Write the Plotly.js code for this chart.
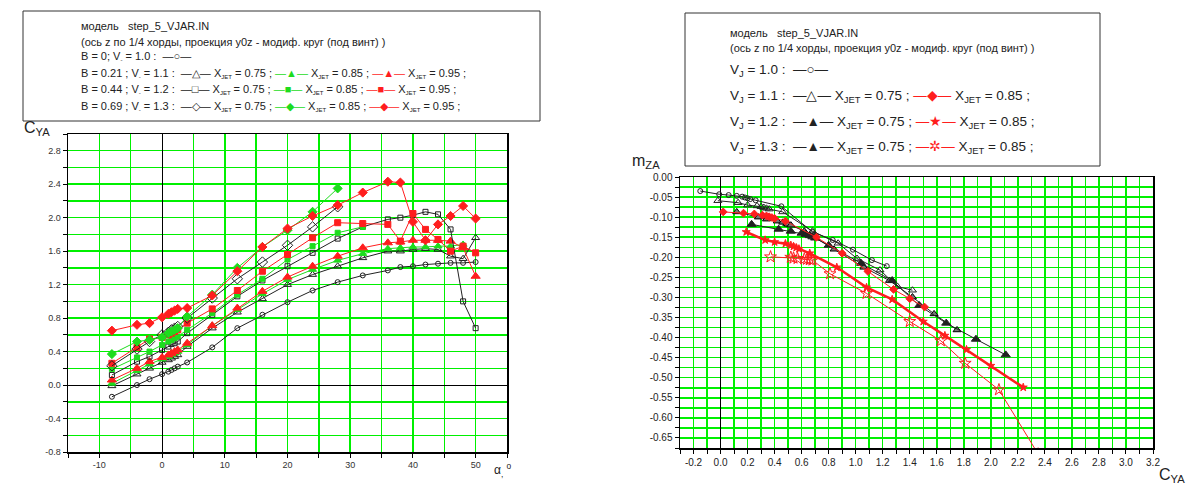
<!DOCTYPE html>
<html><head><meta charset="utf-8">
<script src="https://cdn.plot.ly/plotly-3.0.1.min.js"></script>
<style>html,body{margin:0;padding:0;background:#fff}#chart{width:1187px;height:490px}</style>
</head><body><div id="chart"></div>
<script>
// ---------- Left chart: C_YA vs alpha ----------
const alpha = [-8,-4,-2,0,1,1.5,2,2.5,4,8,12,16,20,24,28,32,36,38,40,42,44,46,48,50];
const cyB0      = [-0.14,0.00,0.07,0.13,0.16,0.18,0.20,0.22,0.27,0.45,0.68,0.84,0.99,1.13,1.23,1.31,1.37,1.41,1.42,1.44,1.45,1.46,1.46,1.47];
const cyB21_075 = [-0.01,0.13,0.20,0.27,0.30,0.32,0.34,0.36,0.46,0.68,0.87,1.03,1.20,1.32,1.42,1.52,1.60,1.60,1.62,1.63,1.62,1.54,1.51,1.76];
const cyB21_085 = [0.02,0.17,0.25,0.31,0.34,0.36,0.38,0.40,0.48,0.71,0.90,1.09,1.26,1.38,1.49,1.57,1.63,1.64,1.65,1.65,1.66,1.66,1.68];
const cyB21_095 = [0.06,0.20,0.28,0.33,0.36,0.38,0.40,0.42,0.50,0.71,0.92,1.12,1.29,1.42,1.54,1.64,1.70,1.71,1.73,1.73,1.73,1.72,1.64,1.30];
const cyB44_075 = [0.12,0.28,0.34,0.42,0.46,0.49,0.50,0.52,0.62,0.84,1.06,1.25,1.42,1.58,1.75,1.89,1.98,2.00,2.03,2.07,2.04,1.86,1.00,0.68];
const cyB44_085 = [0.19,0.33,0.40,0.48,0.52,0.54,0.56,0.58,0.66,0.86,1.08,1.27,1.50,1.66,1.82,1.89];
const cyB44_095 = [0.26,0.45,0.55,0.57,0.60,0.62,0.64,0.66,0.74,0.91,1.13,1.36,1.56,1.76,1.94,1.93,1.92,1.72,2.05,1.86,1.74,1.60,1.66,1.58];
const cyB69_075 = [0.23,0.43,0.52,0.60,0.63,0.66,0.68,0.70,0.80,1.04,1.27,1.47,1.67,1.89,2.13];
const cyB69_085 = [0.37,0.52,0.54,0.57,0.62,0.64,0.66,0.68,0.82,1.08,1.40,1.65,1.85,2.07,2.35];
const cyB69_095 = [0.65,0.72,0.74,0.81,0.85,0.87,0.89,0.91,0.92,1.07,1.36,1.65,1.87,2.02,2.15,2.30,2.43,2.42,1.95,1.73,1.92,2.02,2.14,1.99];

// ---------- Right chart: m_ZA vs C_YA ----------
const cV10      = [-0.15,-0.01,0.06,0.12,0.16,0.18,0.20,0.22,0.26,0.45,0.68,0.83,0.98,1.12,1.23];
const mV10      = [-0.035,-0.043,-0.045,-0.047,-0.049,-0.051,-0.053,-0.055,-0.058,-0.073,-0.137,-0.157,-0.181,-0.207,-0.222];
const cV11_075  = [-0.02,0.13,0.20,0.27,0.30,0.32,0.34,0.36,0.46,0.68,0.87,1.01,1.18,1.31,1.42];
const mV11_075  = [-0.059,-0.064,-0.070,-0.072,-0.074,-0.076,-0.078,-0.080,-0.087,-0.135,-0.165,-0.203,-0.232,-0.273,-0.282];
const cV11_085  = [0.02,0.17,0.25,0.31,0.34,0.36,0.38,0.40,0.48,0.71,0.90,1.09,1.28,1.40,1.51];
const mV11_085  = [-0.087,-0.090,-0.092,-0.095,-0.097,-0.099,-0.101,-0.103,-0.110,-0.150,-0.190,-0.235,-0.280,-0.303,-0.324];
const cV12_075  = [0.12,0.28,0.34,0.42,0.46,0.49,0.50,0.52,0.62,0.84,1.06,1.25,1.42,1.58,1.75];
const mV12_075  = [-0.087,-0.100,-0.105,-0.110,-0.113,-0.116,-0.118,-0.120,-0.135,-0.180,-0.225,-0.258,-0.299,-0.341,-0.381];
const cV12_085  = [0.19,0.33,0.40,0.48,0.52,0.54,0.56,0.58,0.66,0.86,1.08,1.27,1.50,1.66,1.82,2.00,2.24];
const mV12_085  = [-0.137,-0.157,-0.162,-0.166,-0.170,-0.173,-0.176,-0.179,-0.190,-0.225,-0.275,-0.305,-0.360,-0.395,-0.430,-0.470,-0.524];
const cV13_075  = [0.23,0.43,0.52,0.60,0.63,0.66,0.68,0.70,0.80,1.04,1.27,1.47,1.67,1.89,2.11];
const mV13_075  = [-0.118,-0.130,-0.135,-0.140,-0.143,-0.146,-0.149,-0.152,-0.170,-0.215,-0.258,-0.320,-0.364,-0.404,-0.443];
const cV13_085  = [0.37,0.52,0.54,0.57,0.62,0.64,0.66,0.68,0.81,1.08,1.40,1.63,1.81,2.06,2.35];
const mV13_085  = [-0.199,-0.200,-0.202,-0.203,-0.204,-0.205,-0.206,-0.207,-0.241,-0.290,-0.360,-0.408,-0.464,-0.530,-0.690];

// ---------- Tick values / labels (grid lines at every tick) ----------
const leftXTickVals = [-15,-10,-5,0,5,10,15,20,25,30,35,40,45,50,55];
const leftXTickText = ['','-10','','0','','10','','20','','30','','40','','50',''];
const leftYTickVals = [-0.8,-0.6,-0.4,-0.2,0,0.2,0.4,0.6,0.8,1.0,1.2,1.4,1.6,1.8,2.0,2.2,2.4,2.6,2.8,3.0];
const leftYTickText = ['-0.8','','-0.4','','0.0','','0.4','','0.8','','1.2','','1.6','','2.0','','2.4','','2.8',''];
const rightXTickVals = [-0.3,-0.2,-0.1,0,0.1,0.2,0.3,0.4,0.5,0.6,0.7,0.8,0.9,1.0,1.1,1.2,1.3,1.4,1.5,1.6,1.7,1.8,1.9,2.0,2.1,2.2,2.3,2.4,2.5,2.6,2.7,2.8,2.9,3.0,3.1,3.2];
const rightXTickText = ['','-0.2','','0.0','','0.2','','0.4','','0.6','','0.8','','1.0','','1.2','','1.4','','1.6','','1.8','','2.0','','2.2','','2.4','','2.6','','2.8','','3.0','','3.2'];
const rightYTickVals = [0,-0.025,-0.05,-0.075,-0.1,-0.125,-0.15,-0.175,-0.2,-0.225,-0.25,-0.275,-0.3,-0.325,-0.35,-0.375,-0.4,-0.425,-0.45,-0.475,-0.5,-0.525,-0.55,-0.575,-0.6,-0.625,-0.65,-0.675];
const rightYTickText = ['0.00','','-0.05','','-0.10','','-0.15','','-0.20','','-0.25','','-0.30','','-0.35','','-0.40','','-0.45','','-0.50','','-0.55','','-0.60','','-0.65',''];

const BLK = '#222', GRN = '#1edc1e', RED = '#ff1e1e';
function tr(x, y, color, symbol, size, xa, ya, lw, mline) {
  return {x: x, y: y, xaxis: xa, yaxis: ya, type: 'scatter', mode: 'lines+markers',
    line: {color: color, width: lw || 1},
    marker: {symbol: symbol, size: size, color: color, line: {color: mline || color, width: 1}},
    cliponaxis: true, hoverinfo: 'skip'};
}
const sl = n => alpha.slice(0, n);
const data = [
  tr(alpha, cyB0, BLK, 'circle-open', 5, 'x', 'y'),
  tr(alpha, cyB21_075, BLK, 'triangle-up-open', 7, 'x', 'y'),
  tr(sl(cyB21_085.length), cyB21_085, GRN, 'triangle-up', 7, 'x', 'y'),
  tr(alpha, cyB21_095, RED, 'triangle-up', 8, 'x', 'y'),
  tr(alpha, cyB44_075, BLK, 'square-open', 5, 'x', 'y'),
  tr(sl(cyB44_085.length), cyB44_085, GRN, 'square', 5, 'x', 'y'),
  tr(alpha, cyB44_095, RED, 'square', 6, 'x', 'y'),
  tr(sl(cyB69_075.length), cyB69_075, BLK, 'diamond-open', 8, 'x', 'y'),
  tr(sl(cyB69_085.length), cyB69_085, GRN, 'diamond', 7, 'x', 'y'),
  tr(alpha, cyB69_095, RED, 'diamond', 7, 'x', 'y'),

  tr(cV10, mV10, BLK, 'circle-open', 5, 'x2', 'y2'),
  tr(cV11_075, mV11_075, BLK, 'triangle-up-open', 7, 'x2', 'y2'),
  tr(cV12_075, mV12_075, BLK, 'triangle-up', 7, 'x2', 'y2', 1, '#000'),
  tr(cV13_075, mV13_075, BLK, 'triangle-up', 8, 'x2', 'y2'),
  tr(cV11_085, mV11_085, RED, 'diamond', 6, 'x2', 'y2'),
  tr(cV12_085, mV12_085, RED, 'star', 6, 'x2', 'y2', 2.5),
  tr(cV13_085, mV13_085, RED, 'star-open', 9, 'x2', 'y2')
];
data[12].marker.color = '#777';

const W = 1187, H = 490;
const px = v => v / W, py = v => 1 - v / H;
const GRID = '#00f000';
const tickFontL = {family: 'Liberation Sans, Arial, sans-serif', size: 9, color: '#333'};
const tickFontR = {family: 'Liberation Sans, Arial, sans-serif', size: 10, color: '#222'};

function axis(extra) {
  return Object.assign({
    tickmode: 'array', showgrid: true, gridcolor: GRID, gridwidth: 1.5,
    ticks: 'outside', ticklen: 4, tickcolor: '#000', showline: true, mirror: true,
    linecolor: '#000', linewidth: 1.5, fixedrange: true
  }, extra);
}

const layout = {
  width: W, height: H, margin: {l: 0, r: 0, t: 0, b: 0},
  paper_bgcolor: '#fff', plot_bgcolor: '#fff', showlegend: false,
  xaxis: axis({domain: [px(68), px(507)], range: [-15, 55], tickvals: leftXTickVals, ticktext: leftXTickText,
    zeroline: true, zerolinecolor: '#000', zerolinewidth: 1, tickfont: tickFontL, anchor: 'y'}),
  yaxis: axis({domain: [py(452), py(134)], range: [-0.8, 3.0], tickvals: leftYTickVals, ticktext: leftYTickText,
    zeroline: true, zerolinecolor: '#000', zerolinewidth: 1, tickfont: tickFontL, anchor: 'x'}),
  xaxis2: axis({domain: [px(680), px(1153)], range: [-0.3, 3.2], tickvals: rightXTickVals, ticktext: rightXTickText,
    zeroline: true, zerolinecolor: '#000', zerolinewidth: 1, tickfont: tickFontR, anchor: 'y2'}),
  yaxis2: axis({domain: [py(448), py(177)], range: [-0.675, 0], tickvals: rightYTickVals, ticktext: rightYTickText,
    zeroline: false, tickfont: tickFontR, anchor: 'x2'}),
  shapes: [
    {type: 'rect', xref: 'paper', yref: 'paper', x0: px(23), x1: px(540), y0: py(121), y1: py(11), line: {color: '#333', width: 1}},
    {type: 'rect', xref: 'paper', yref: 'paper', x0: px(685), x1: px(1100), y0: py(166), y1: py(13), line: {color: '#333', width: 1}}
  ],
  annotations: []
};

const F = 'Liberation Sans, Arial, sans-serif';
function ann(x, y, text, size, extra) {
  return Object.assign({xref: 'paper', yref: 'paper', x: px(x), y: py(y), text: text, showarrow: false,
    xanchor: 'left', yanchor: 'middle', align: 'left', font: {family: F, size: size, color: '#222'}}, extra || {});
}
const g = s => "<span style='color:" + GRN + "'>" + s + "</span>";
const r = s => "<span style='color:" + RED + "'>" + s + "</span>";
const XJ = "X<sub><span style='font-size:6px'>JET</span></sub>";
const Vs = "V<sub><span style='font-size:6px'>-</span></sub>";
const leftRows = [
  "модель   step_5_VJAR.IN",
  "(ось z по 1/4 хорды, проекция y0z - модиф. круг (под винт) )",
  "B = 0; " + Vs + " = 1.0 :  —○—",
  "B = 0.21 ; " + Vs + " = 1.1 :  —△— " + XJ + " = 0.75 ; " + g("—▲—") + " " + XJ + " = 0.85 ; " + r("—▲—") + " " + XJ + " = 0.95 ;",
  "B = 0.44 ; " + Vs + " = 1.2 :  —□— " + XJ + " = 0.75 ; " + g("—■—") + " " + XJ + " = 0.85 ; " + r("—■—") + " " + XJ + " = 0.95 ;",
  "B = 0.69 ; " + Vs + " = 1.3 :  —◇— " + XJ + " = 0.75 ; " + g("—◆—") + " " + XJ + " = 0.85 ; " + r("—◆—") + " " + XJ + " = 0.95 ;"
];
const leftY = [26, 42, 57, 73, 90, 107];
leftRows.forEach((t, i) => layout.annotations.push(ann(79, leftY[i], t, 11)));

const XJR = "X<sub>JET</sub>";
const rightRows = [
  ["модель   step_5_VJAR.IN", 11],
  ["(ось z по 1/4 хорды, проекция y0z - модиф. круг (под винт) )", 11],
  ["V<sub>J</sub> = 1.0 :  —○—", 13.5],
  ["V<sub>J</sub> = 1.1 :  —△— " + XJR + " = 0.75 ; " + r("—◆—") + " " + XJR + " = 0.85 ;", 13.5],
  ["V<sub>J</sub> = 1.2 :  —▲— " + XJR + " = 0.75 ; " + r("—★—") + " " + XJR + " = 0.85 ;", 13.5],
  ["V<sub>J</sub> = 1.3 :  —▲— " + XJR + " = 0.75 ; " + r("—✲—") + " " + XJR + " = 0.85 ;", 13.5]
];
const rightY = [33, 48, 71, 97, 122, 147];
rightRows.forEach((t, i) => layout.annotations.push(ann(728, rightY[i], t[0], t[1])));

layout.annotations.push(ann(22, 128, "C<sub>YA</sub>", 16));
layout.annotations.push(ann(492, 470, "α<sub>,</sub> <sup>o</sup>", 12));
layout.annotations.push(ann(630, 162, "m<sub>ZA</sub>", 16));
layout.annotations.push(ann(1187, 475, "C<sub>YA</sub>", 16, {xanchor: 'right'}));

Plotly.newPlot('chart', data, layout, {staticPlot: true, displayModeBar: false});
</script></body></html>
